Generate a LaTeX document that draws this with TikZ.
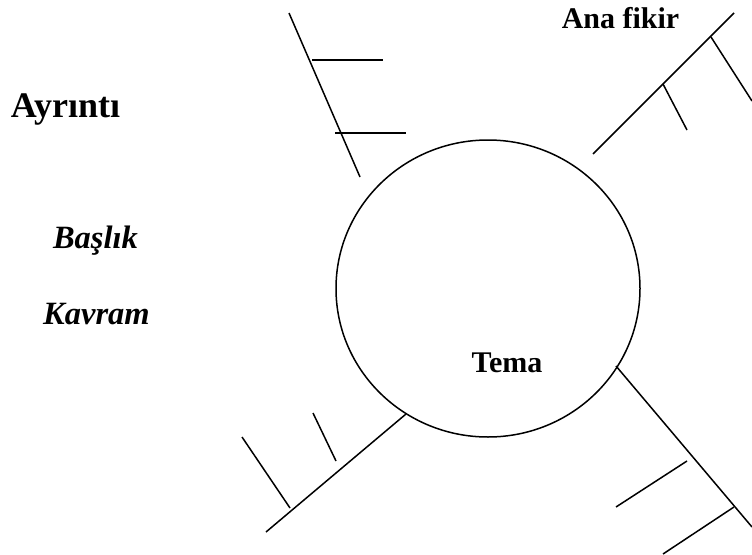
\documentclass[tikz,border=0pt]{standalone}
\usepackage{fontspec}
\setmainfont{Liberation Serif}
\usetikzlibrary{shapes.geometric}
\begin{document}
\begin{tikzpicture}[x=1pt,y=-1pt,
  ln/.style={line width=1.5pt,line cap=butt},
  lbl/.style={anchor=base,inner sep=0pt,font=\bfseries\fontsize{30}{36}\selectfont},
  big/.style={anchor=base,inner sep=0pt,font=\bfseries\fontsize{36}{42}\selectfont},
  itl/.style={anchor=base,inner sep=0pt,font=\bfseries\itshape\fontsize{32.5}{38}\selectfont}]
\useasboundingbox (0,0) rectangle (752,554);
% circle
\node[draw,ellipse,line width=1.5pt,minimum width=304pt,minimum height=297pt,inner sep=0pt] (c) at (488,288.5) {};
% texts
\node[lbl] (anafikir) at (620.5,28) {Ana fikir};
\node[lbl] (tema) at (507,372) {Tema};
\node[big] (ayrinti) at (65.5,117) {Ayrıntı};
\node[itl] (baslik) at (95.5,248) {Başlık};
\node[itl] (kavram) at (96.5,324) {Kavram};
% top-left branch
\coordinate (tl1) at (289,13);
\coordinate (tl2) at (360,177);
\coordinate (tla) at (312,60);
\coordinate (tlb) at (383,60);
\coordinate (tlc) at (335,133);
\coordinate (tld) at (406,133);
\draw[ln] (tl1) -- (tl2);
\draw[ln] (tla) -- (tlb);
\draw[ln] (tlc) -- (tld);
% top-right branch
\coordinate (tr1) at (593,154);
\coordinate (tr2) at (734,13);
\coordinate (tra) at (711,37);
\coordinate (trb) at (752,101);
\coordinate (trc) at (663,84);
\coordinate (trd) at (687,130);
\draw[ln] (tr1) -- (tr2);
\draw[ln] (tra) -- (trb);
\draw[ln] (trc) -- (trd);
% bottom-left branch
\coordinate (bl1) at (406,414);
\coordinate (bl2) at (266,532);
\coordinate (bla) at (290,508);
\coordinate (blb) at (242,437);
\coordinate (blc) at (336,461);
\coordinate (bld) at (313,413);
\draw[ln] (bl1) -- (bl2);
\draw[ln] (bla) -- (blb);
\draw[ln] (blc) -- (bld);
% bottom-right branch
\coordinate (br1) at (616,366);
\coordinate (br2) at (752,527);
\coordinate (bra) at (687,461);
\coordinate (brb) at (616,507);
\coordinate (brc) at (734,507);
\coordinate (brd) at (663,554);
\draw[ln] (br1) -- (br2);
\draw[ln] (bra) -- (brb);
\draw[ln] (brc) -- (brd);
\end{tikzpicture}
\end{document}
